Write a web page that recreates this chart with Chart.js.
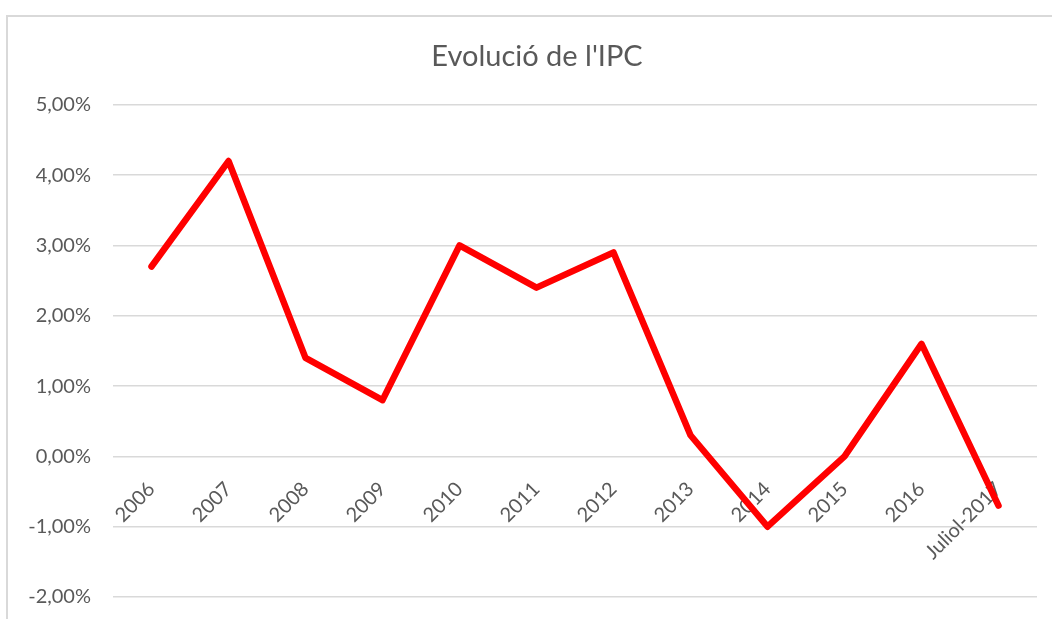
<!DOCTYPE html>
<html>
<head>
<meta charset="utf-8">
<script src="https://cdn.jsdelivr.net/npm/chart.js@4"></script>
<style>
	html, body { margin: 0; padding: 0; background: #fff; }
	#wrap { position: relative; width: 1052px; height: 619px; overflow: hidden; }
	#frame { position: absolute; left: 6px; top: 15px; width: 1100px; height: 700px; border: 2px solid #d9d9d9; box-sizing: border-box; }
	#chart { position: absolute; left: 0; top: 0; }
</style>
</head>
<body>
<div id="wrap">
	<div id="frame"></div>
	<canvas id="chart" width="1052" height="619"></canvas>
</div>
<script>
"use strict"

const years = ["2006", "2007", "2008", "2009", "2010", "2011", "2012", "2013", "2014", "2015", "2016", "Juliol-2017"]
const ipc = [2.7, 4.2, 1.4, 0.8, 3.0, 2.4, 2.9, 0.3, -1.0, 0.0, 1.6, -0.7]
const yTicks = [-2, -1, 0, 1, 2, 3, 4, 5]

const font = "Lato, 'Open Sans', sans-serif"

// chart
{
	const ctx = document.getElementById("chart")
	const myChart = new Chart(ctx, {
		type: "line",
		data: {
			labels: years,
			datasets: [
				{
					label: "IPC",
					data: ipc,
					borderColor: "#ff0000",
					borderWidth: 6.5,
					borderJoinStyle: "round",
					borderCapStyle: "round",
					pointRadius: 0,
					tension: 0,
				},
			],
		},
		options: {
			responsive: false,
			animation: false,
			layout: {
				padding: { left: 22, right: 0, top: 0, bottom: 22 },
			},
			plugins: {
				legend: { display: false },
				tooltip: { enabled: false },
				title: {
					display: true,
					text: "Evolució de l'IPC",
					color: "#595959",
					font: { family: font, size: 29, weight: "normal" },
					padding: { top: 39, bottom: 31 },
				},
			},
			scales: {
				x: {
					type: "category",
					offset: true,
					position: { y: 0 },
					grid: { display: false },
					border: { display: false },
					ticks: {
						color: "#595959",
						font: { family: font, size: 20 },
						maxRotation: 45,
						minRotation: 45,
						autoSkip: false,
						padding: 13,
					},
				},
				y: {
					min: yTicks[0],
					max: yTicks[yTicks.length - 1],
					afterBuildTicks: function (scale) {
						scale.ticks = yTicks.map(function (v) { return { value: v } })
					},
					afterFit: function (scale) {
						scale.width = 91
					},
					grid: {
						color: "#d9d9d9",
						lineWidth: 1.5,
						drawTicks: true,
						tickLength: 22,
						tickColor: "rgba(0,0,0,0)",
					},
					border: { display: false },
					ticks: {
						color: "#595959",
						font: { family: font, size: 20 },
						padding: 0,
						callback: function (v) {
							return v.toFixed(2).replace(".", ",") + "%"
						},
					},
				},
				// empty right margin so the plot ends where the reference does
				yRight: {
					position: "right",
					grid: { display: false },
					border: { display: false },
					ticks: { display: false },
					afterFit: function (scale) {
						scale.width = 15
					},
				},
			},
		},
	})
}
</script>
</body>
</html>
